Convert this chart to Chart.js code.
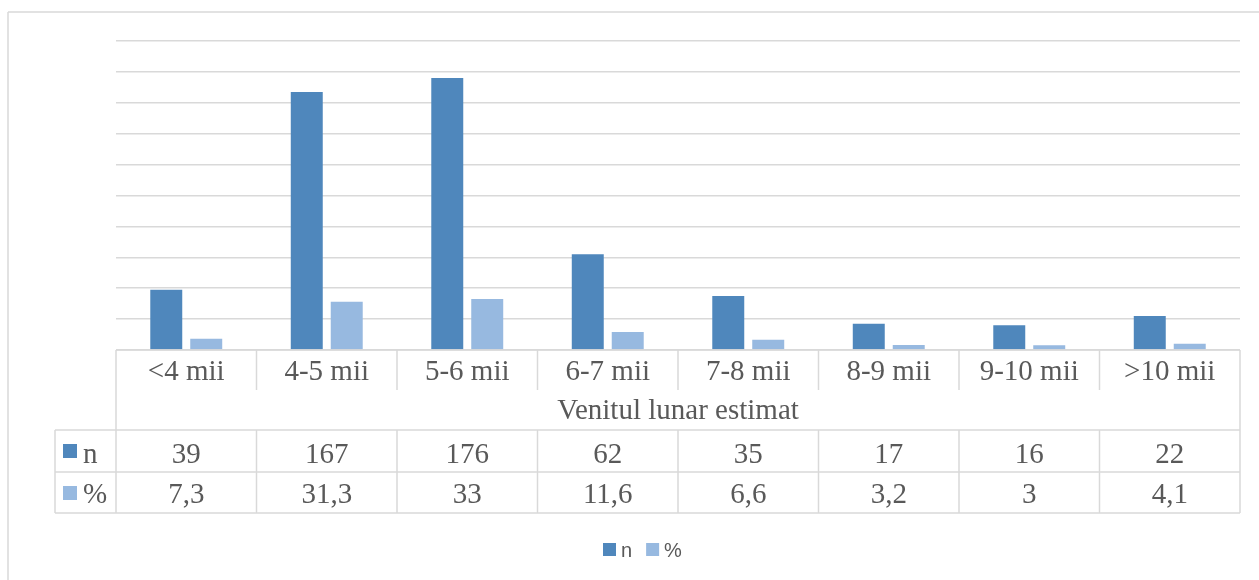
<!DOCTYPE html>
<html>
<head>
<meta charset="utf-8">
<script src="https://cdn.jsdelivr.net/npm/chart.js@4/dist/chart.umd.min.js"></script>
<style>
  html, body { margin: 0; padding: 0; background: #ffffff; }
  #wrap { width: 1259px; height: 580px; position: relative; }
</style>
</head>
<body>
<div id="wrap"><canvas id="c" width="1259" height="580"></canvas></div>
<script>
// Monthly income brackets and the respondent counts / shares per bracket
const categories = ['<4 mii', '4-5 mii', '5-6 mii', '6-7 mii', '7-8 mii', '8-9 mii', '9-10 mii', '>10 mii'];
const countValues = [39, 167, 176, 62, 35, 17, 16, 22];
const percentLabels = ['7,3', '31,3', '33', '11,6', '6,6', '3,2', '3', '4,1'];
const percentValues = [7.3, 31.3, 33, 11.6, 6.6, 3.2, 3, 4.1];
const axisTitle = 'Venitul lunar estimat';
const seriesNames = ['n', '%'];

const DARK = '#4f87bc';
const LIGHT = '#97b9e0';
const GRID = '#d9d9d9';
const TEXT = '#595959';
const SERIF = '"Liberation Serif", "Times New Roman", serif';
const SANS = '"Liberation Sans", Arial, sans-serif';

// Draws the data table under the plot, the frame and the legend
const tablePlugin = {
  id: 'dataTable',
  afterDraw(chart) {
    const ctx = chart.ctx;
    const x = chart.scales.x;
    const area = chart.chartArea;
    const left = area.left, right = area.right, base = area.bottom;
    const keyLeft = 55;
    const rowCat = base + 40, rowTitle = base + 80, rowN = base + 122, rowP = base + 163;
    const half = (x.getPixelForValue(1) - x.getPixelForValue(0)) / 2;

    ctx.save();
    ctx.strokeStyle = GRID;
    ctx.lineWidth = 1.5;
    const line = (x1, y1, x2, y2) => { ctx.beginPath(); ctx.moveTo(x1, y1); ctx.lineTo(x2, y2); ctx.stroke(); };

    // outer chart frame
    line(8, 12, 1259, 12);
    line(8, 12, 8, 580);

    // table grid
    line(left, base, right, base);
    line(keyLeft, rowTitle, right, rowTitle);
    line(keyLeft, rowN, right, rowN);
    line(keyLeft, rowP, right, rowP);
    line(keyLeft, rowTitle, keyLeft, rowP);
    line(left, base, left, rowP);
    line(right, base, right, rowP);
    for (let i = 1; i < categories.length; i++) {
      const px = x.getPixelForValue(i) - half;
      line(px, base, px, rowCat);
      line(px, rowTitle, px, rowP);
    }

    // table text
    ctx.fillStyle = TEXT;
    ctx.font = '29px ' + SERIF;
    ctx.textAlign = 'center';
    ctx.textBaseline = 'alphabetic';
    categories.forEach((c, i) => {
      const cx = x.getPixelForValue(i);
      ctx.fillText(c, cx, rowCat - 10);
      ctx.fillText(String(countValues[i]), cx, rowN - 9);
      ctx.fillText(percentLabels[i], cx, rowP - 10);
    });
    ctx.fillText(axisTitle, (left + right) / 2, rowTitle - 11);

    // series keys in the table's first column
    ctx.textAlign = 'left';
    const ds = chart.data.datasets;
    ctx.fillStyle = ds[0].backgroundColor;
    ctx.fillRect(63, rowTitle + 14, 14, 14);
    ctx.fillStyle = ds[1].backgroundColor;
    ctx.fillRect(63, rowN + 14, 14, 14);
    ctx.fillStyle = TEXT;
    ctx.fillText(ds[0].label, 83, rowN - 9);
    ctx.fillText(ds[1].label, 83, rowP - 10);

    // legend below the table
    ctx.font = '20px ' + SANS;
    ctx.textBaseline = 'alphabetic';
    let lx = 603;
    ds.forEach((d) => {
      ctx.fillStyle = d.backgroundColor;
      ctx.fillRect(lx, 543, 13, 13);
      ctx.fillStyle = TEXT;
      ctx.fillText(d.label, lx + 18, 557);
      lx += 18 + ctx.measureText(d.label).width + 14;
    });
    ctx.restore();
  }
};

new Chart(document.getElementById('c'), {
  type: 'bar',
  data: {
    labels: categories,
    datasets: [
      { label: seriesNames[0], data: countValues, backgroundColor: DARK, barPercentage: 0.8, categoryPercentage: 0.569 },
      { label: seriesNames[1], data: percentValues, backgroundColor: LIGHT, barPercentage: 0.8, categoryPercentage: 0.569 }
    ]
  },
  options: {
    responsive: false,
    animation: false,
    devicePixelRatio: 1,
    layout: { padding: { left: 116, right: 19, top: 41, bottom: 230 } },
    plugins: { legend: { display: false }, tooltip: { enabled: false } },
    scales: {
      x: { display: false },
      y: {
        min: 0, max: 200,
        ticks: { display: false, stepSize: 20 },
        border: { display: false },
        grid: { color: GRID, lineWidth: 1.5, drawTicks: false },
        afterFit(scale) { scale.width = 0; }
      }
    }
  },
  plugins: [tablePlugin]
});
</script>
</body>
</html>
